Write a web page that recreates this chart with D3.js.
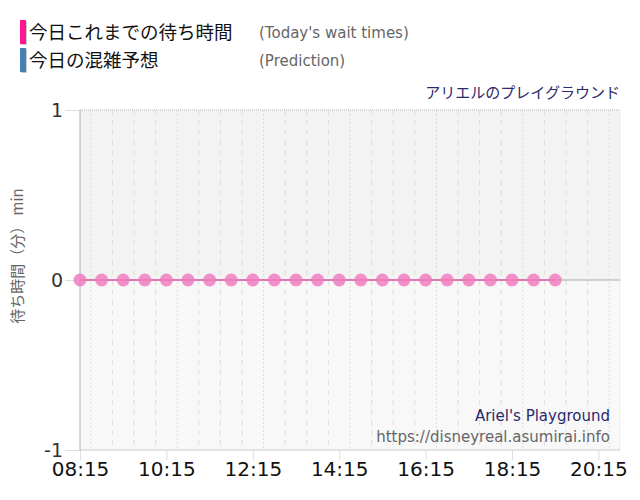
<!DOCTYPE html>
<html>
<head>
<meta charset="utf-8">
<script src="https://cdn.jsdelivr.net/npm/d3@7"></script>
<style>
body { margin: 0; background: #fff; }
svg text { font-family: "DejaVu Sans", "Noto Sans CJK JP", sans-serif; }
.jp { font-family: "Noto Sans CJK JP", sans-serif; }
</style>
</head>
<body>
<div id="chart"></div>
<script>
// wait times observed today, every 30 minutes
var times = ["08:15","08:45","09:15","09:45","10:15","10:45","11:15","11:45","12:15","12:45",
  "13:15","13:45","14:15","14:45","15:15","15:45","16:15","16:45","17:15","17:45",
  "18:15","18:45","19:15"];
var waits = [0,0,0,0,0,0,0,0,0,0,0,0,0,0,0,0,0,0,0,0,0,0,0];
var xTicks = ["08:15","10:15","12:15","14:15","16:15","18:15","20:15"];
var yTicks = [-1, 0, 1];
var xStart = "08:15", xEnd = "20:45";

var margin = {top: 110, right: 20, bottom: 50, left: 80},
width = 640 - margin.left - margin.right,
height = 500 - margin.top - margin.bottom;

var parse = d3.timeParse("%H:%M");

var x = d3.scaleTime()
.domain([parse(xStart), parse(xEnd)])
.range([0, width]);

var y = d3.scaleLinear().domain([-1, 1]).range([height, 0]);

var svg = d3.select("#chart").append("svg")
.attr("width", 640)
.attr("height", 500);

// legend
var legend = [
  {jp: "今日これまでの待ち時間", en: "(Today's wait times)", color: "#ff1493"},
  {jp: "今日の混雑予想", en: "(Prediction)", color: "#4682b4"}
];
var lg = svg.selectAll(".legend").data(legend).enter().append("g")
.attr("transform", function(d, i) { return "translate(20," + (20 + i * 28) + ")"; });
lg.append("rect").attr("x", 1).attr("y", 1).attr("width", 6).attr("height", 24).attr("fill", "#ccc");
lg.append("rect").attr("width", 6).attr("height", 24).attr("fill", function(d) { return d.color; });
lg.append("text").attr("class", "jp").attr("x", 9).attr("y", 19)
.style("font-size", "18.5px").attr("fill", "#111").text(function(d) { return d.jp; });
lg.append("text").attr("x", 239).attr("y", 18)
.style("font-size", "15px").attr("fill", "#666").text(function(d) { return d.en; });

svg.append("text").attr("class", "jp")
.attr("x", 620).attr("y", 98).attr("text-anchor", "end")
.style("font-size", "15px").attr("fill", "#2b2a6b")
.text("アリエルのプレイグラウンド");

var g = svg.append("g")
.attr("transform", "translate(" + margin.left + "," + margin.top + ")");

// backgrounds
g.append("rect").attr("x", 0).attr("y", y(1)).attr("width", width).attr("height", y(0) - y(1))
.attr("fill", "#f3f3f3");
g.append("rect").attr("x", 0).attr("y", y(0)).attr("width", width).attr("height", y(-1) - y(0))
.attr("fill", "#f8f8f8");

// vertical grid every 30 min
var grid = d3.timeMinute.every(30).range(parse(xStart), parse(xEnd));
g.selectAll(".vgrid").data(grid).enter().append("line")
.attr("x1", function(d) { return x(d); }).attr("x2", function(d) { return x(d); })
.attr("y1", 0).attr("y2", height)
.attr("stroke", "#dcdcdc")
.attr("stroke-dasharray", function(d, i) { return i % 4 == 0 ? "2,2" : "5,5"; });

// top dotted border & right border
g.append("line").attr("x1", 0).attr("x2", width).attr("y1", 0).attr("y2", 0)
.attr("stroke", "#ccc").attr("stroke-dasharray", "1,1");
g.append("line").attr("x1", width).attr("x2", width).attr("y1", 0).attr("y2", height)
.attr("stroke", "#e0e0e0").attr("stroke-dasharray", "1,1");

// y axis
var yAxis = d3.axisLeft(y).tickValues(yTicks).tickSize(15).tickFormat(function(d) { return String(d); });
var ya = g.append("g").attr("class", "y axis").call(yAxis);
ya.select(".domain").remove();
ya.selectAll("line").attr("stroke", "#ddd");
ya.selectAll("text").style("font-size", "19px").attr("fill", "#333").attr("x", -17);

// horizontal lines
yTicks.forEach(function(v) {
  g.append("line").attr("x1", 0).attr("x2", width).attr("y1", y(v)).attr("y2", y(v))
  .attr("stroke", v == 0 ? "#aaa" : "#ccc")
  .attr("stroke-dasharray", v == 1 ? "1,1" : null);
});

// x axis
var xAxis = d3.axisBottom(x)
.tickValues(xTicks.map(parse))
.tickSize(10)
.tickFormat(d3.timeFormat("%H:%M"));
var xa = g.append("g").attr("class", "x axis")
.attr("transform", "translate(0," + height + ")")
.call(xAxis);
xa.select(".domain").remove();
xa.selectAll("line").attr("stroke", "#ddd");
xa.selectAll("text").style("font-size", "20px").attr("fill", "#111").attr("y", 12);

// left axis line
g.append("line").attr("x1", 0).attr("x2", 0).attr("y1", 0).attr("y2", height)
.attr("stroke", "#b0b0b8");

// y label
svg.append("text").attr("class", "jp")
.attr("transform", "translate(23,256) rotate(-90)")
.attr("text-anchor", "middle")
.style("font-size", "15px").attr("fill", "#666")
.text("待ち時間（分） min");

// wait line & points
var data = times.map(function(t, i) { return {t: parse(t), v: waits[i]}; });
var line = d3.line().x(function(d) { return x(d.t); }).y(function(d) { return y(d.v); });
g.append("path").datum(data).attr("d", line)
.attr("fill", "none").attr("stroke", "#e0559f").attr("stroke-width", 2).attr("opacity", 0.7);
g.selectAll(".dot").data(data).enter().append("circle")
.attr("cx", function(d) { return x(d.t); })
.attr("cy", function(d) { return y(d.v); })
.attr("r", 6.5)
.attr("fill", "#f07cc0").attr("opacity", 0.85);

// watermark
svg.append("text").attr("x", 610).attr("y", 421).attr("text-anchor", "end")
.style("font-size", "15px").attr("fill", "#2b2a6b").text("Ariel's Playground");
svg.append("text").attr("x", 610).attr("y", 442).attr("text-anchor", "end")
.style("font-size", "15px").attr("fill", "#666").text("https://disneyreal.asumirai.info");
</script>
</body>
</html>
